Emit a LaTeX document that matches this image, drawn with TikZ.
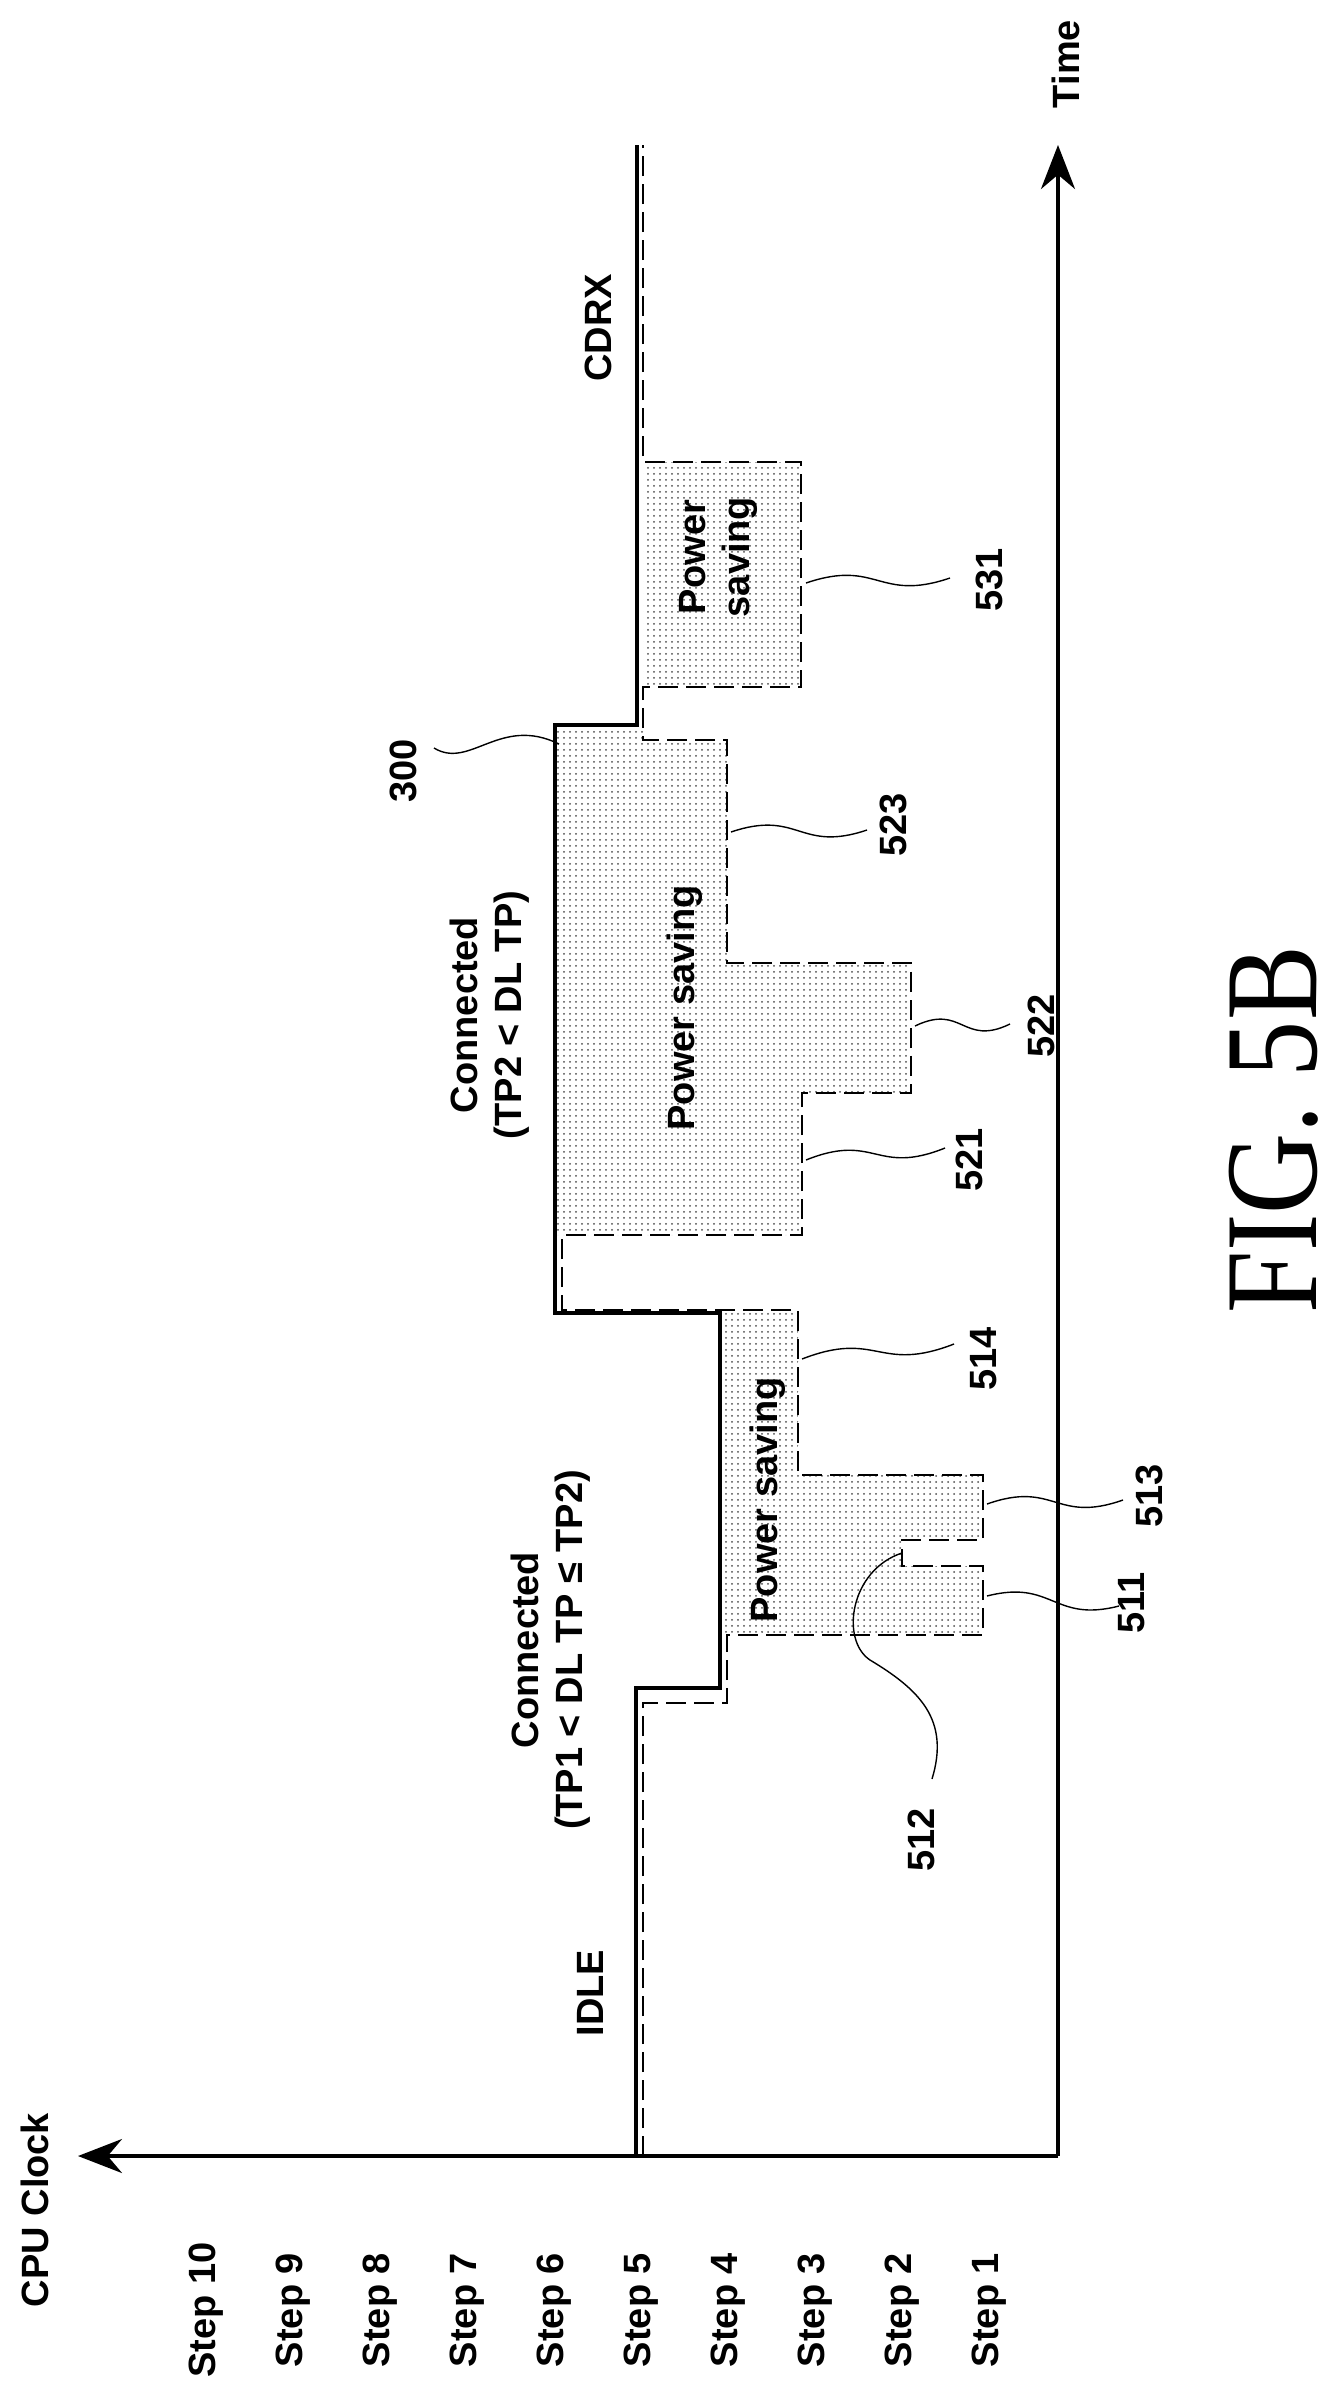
\documentclass[tikz,border=0pt]{standalone}
\usepackage{fontspec}
\setmainfont{Liberation Sans}
\newfontfamily\figfont{Liberation Serif}
\usetikzlibrary{arrows.meta,patterns,calc}
\begin{document}
\begin{tikzpicture}[x=0.5pt,y=-0.5pt,
  lbl/.style={rotate=90,font=\fontsize{19}{22}\selectfont\bfseries,align=center,inner sep=0pt},
  axis/.style={line width=1.8pt,-{Stealth[length=22pt,width=17pt]}},
  main/.style={line width=1.6pt},
  dsh/.style={line width=0.9pt,dash pattern=on 10pt off 4pt},
  ps/.style={pattern=dots,pattern color=black!70},
  lead/.style={line width=0.7pt}]
\useasboundingbox (0,0) rectangle (1344,2394);
% axes
\coordinate (O) at (1058,2156);
\coordinate (T) at (1058,145);
\coordinate (C) at (78,2156);
\draw[axis] (O) -- (T);
\draw[axis] (O) -- (C);
\node[lbl] (time) at (1066,64) {Time};
\node[lbl] (cpu) at (35,2210) {CPU Clock};
\foreach \k in {1,...,10} {
  \node[lbl] (s\k) at ({1076-87*\k},2310) {Step \k};
}
% fills
\fill[ps] (720,1310)--(798,1310)--(798,1475)--(983,1475)--(983,1540)--(902,1540)--(902,1566)--(983,1566)--(983,1635)--(722,1635)--cycle;
\fill[ps] (555,728)--(643,728)--(643,740)--(727,740)--(727,963)--(911,963)--(911,1093)--(802,1093)--(802,1235)--(555,1235)--cycle;
\fill[ps] (643,462)--(801,462)--(801,687)--(643,687)--cycle;
% dashed
\draw[dsh] (643,2156)--(643,1703)--(727,1703)--(727,1635)--(983,1635)--(983,1566)--(902,1566)--(902,1540)--(983,1540)--(983,1475)--(798,1475)--(798,1310)--(562,1310)--(562,1235)--(802,1235)--(802,1093)--(911,1093)--(911,963)--(727,963)--(727,740)--(643,740)--(643,687)--(801,687)--(801,462)--(643,462)--(643,145);
% solid 300
\draw[main] (636,2156)--(636,1688)--(720,1688)--(720,1313)--(555,1313)--(555,725)--(637,725)--(637,145);
% texts
\node[lbl] (idle) at (590,1993) {IDLE};
\node[lbl] (c1) at (551,1650) {Connected\\(TP1 < DL TP ≤ TP2)};
\node[lbl] (c2) at (490,1015) {Connected\\(TP2 < DL TP)};
\node[lbl] (cdrx) at (598,328) {CDRX};
\node[lbl] (ps3) at (718,557) {Power\\saving};
\node[lbl] (ps2) at (685,1008) {Power saving};
\node[lbl] (ps1) at (768,1500) {Power saving};
\node[rotate=90,anchor=base,font=\figfont\fontsize{66}{70}\selectfont,inner sep=0pt] (fig) at (1316,1130) {\scalebox{0.85}[1]{FIG. 5B}};
% reference numerals
\node[lbl] (n300) at (403,771) {300};
\node[lbl] (n531) at (989,580) {531};
\node[lbl] (n523) at (893,825) {523};
\node[lbl] (n522) at (1041,1026) {522};
\node[lbl] (n521) at (969,1160) {521};
\node[lbl] (n514) at (984,1359) {514};
\node[lbl] (n513) at (1149,1496) {513};
\node[lbl] (n511) at (1132,1603) {511};
\node[lbl] (n512) at (921,1840) {512};
% leaders
\newcommand{\leadr}[2]{\draw[lead] (#1) .. controls ($(#1)!0.5!(#2)+(0,-22)$) and ($(#1)!0.5!(#2)+(0,22)$) .. (#2);}
\coordinate (a300) at (559,744); \coordinate (b300) at (434,748);
\draw[lead] (b300) .. controls (470,770) and (500,715) .. (a300);
\coordinate (a531) at (806,583); \coordinate (b531) at (950,578);
\leadr{a531}{b531}
\coordinate (a523) at (731,832); \coordinate (b523) at (867,830);
\leadr{a523}{b523}
\coordinate (a522) at (915,1026); \coordinate (b522) at (1010,1024);
\leadr{a522}{b522}
\coordinate (a521) at (806,1160); \coordinate (b521) at (945,1148);
\leadr{a521}{b521}
\coordinate (a514) at (802,1359); \coordinate (b514) at (954,1344);
\leadr{a514}{b514}
\coordinate (a513) at (987,1504); \coordinate (b513) at (1123,1500);
\leadr{a513}{b513}
\coordinate (a511) at (987,1596); \coordinate (b511) at (1119,1606);
\leadr{a511}{b511}
\coordinate (a512) at (902,1553); \coordinate (b512) at (932,1779);
\draw[lead] (a512) .. controls (850,1570) and (840,1640) .. (870,1660) .. controls (920,1690) and (950,1720) .. (b512);
\end{tikzpicture}
\end{document}
